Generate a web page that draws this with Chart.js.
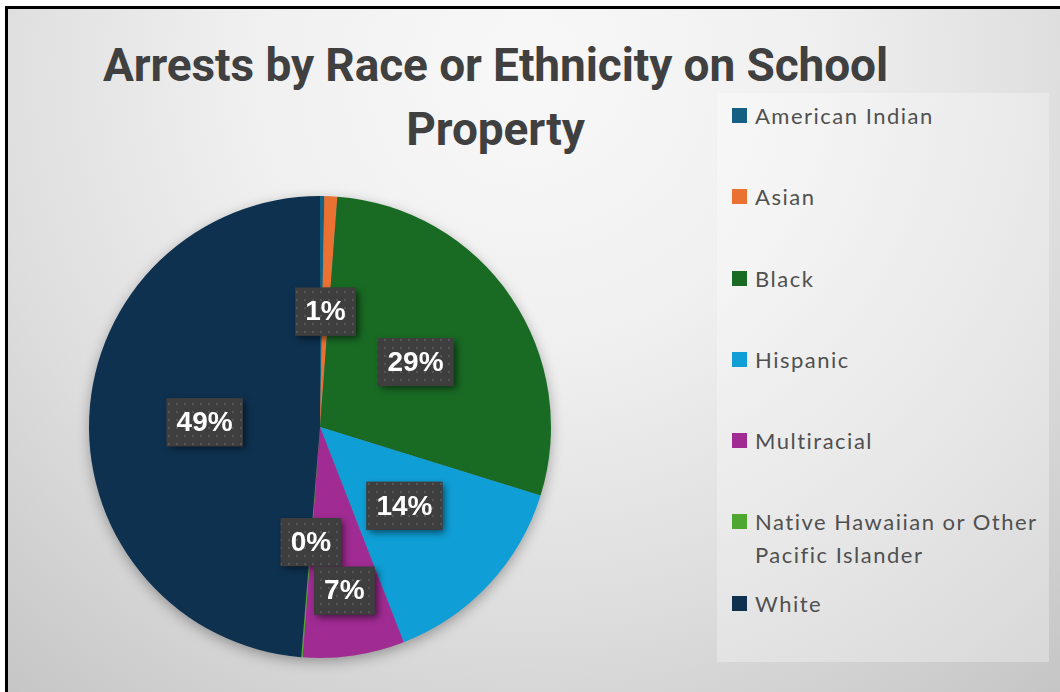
<!DOCTYPE html>
<html>
<head>
<meta charset="utf-8">
<script src="https://cdn.jsdelivr.net/npm/chart.js@4"></script>
<style>
    html, body { margin: 0; padding: 0; background: #fff; }
    body { width: 1060px; height: 692px; position: relative; overflow: hidden; }
    #frame {
        position: absolute; left: 5px; top: 6px; width: 1060px; height: 690px;
        border-left: 3px solid #000; border-top: 3px solid #000;
        background: radial-gradient(circle at 520px 60px, #f8f8f8 0px, #f0f0f0 280px, #dedede 540px, #c5c5c5 820px);
    }
    #title {
        position: absolute; left: 0; top: 33px; width: 991px; text-align: center;
        font-family: Roboto, sans-serif; font-weight: 700; font-size: 46px; line-height: 64px;
        color: #404040; letter-spacing: -0.1px;
    }
    #chartBox { position: absolute; left: 69px; top: 176px; width: 502px; height: 502px; }
    #legend {
        position: absolute; left: 717px; top: 93px; width: 332px; height: 569px;
        background: rgba(255, 255, 255, 0.3);
        font-family: Lato, sans-serif; font-size: 22px; line-height: 33px; color: #505050;
        letter-spacing: 1.5px;
    }
    .item { display: flex; align-items: flex-start; height: calc(569px / 7); box-sizing: border-box; padding: 6px 0 0 15px; }
    .swatch { width: 15px; height: 15px; margin: 9px 8px 0 0; flex: none; }
    .text { max-width: 300px; }
</style>
</head>
<body>
<div id="frame"></div>
<div id="title">Arrests by Race or Ethnicity on School<br>Property</div>
<div id="chartBox"><canvas id="pieChart"></canvas></div>
<div id="legend"></div>

<script>
// data (share of arrests, %)
const categories = ['American Indian', 'Asian', 'Black', 'Hispanic', 'Multiracial',
    'Native Hawaiian or Other Pacific Islander', 'White'];
const sharePercent = [0.3, 0.9, 28.6, 14.3, 7.1, 0.1, 48.7];
const sliceColors = ['#156082', '#E97132', '#196B24', '#0F9ED5', '#A02B93', '#4EA72E', '#0E3150'];
// Excel leaves this one unlabelled (it sits under the Asian label)
const hiddenLabels = ['American Indian'];

// soft shadow under the whole pie
const pieShadow = {
    id: 'pieShadow',
    beforeDatasetsDraw(chart) {
        const arc = chart.getDatasetMeta(0).data[0];
        if (!arc) return;
        const ctx = chart.ctx;
        ctx.save();
        ctx.shadowColor = 'rgba(0,0,0,0.35)';
        ctx.shadowBlur = 14;
        ctx.shadowOffsetY = 4;
        ctx.fillStyle = '#777';
        ctx.beginPath();
        ctx.arc(arc.x, arc.y, arc.outerRadius - 1, 0, Math.PI * 2);
        ctx.fill();
        ctx.restore();
    }
};

function dotPattern(ctx) {
    const c = document.createElement('canvas');
    c.width = 8; c.height = 8;
    const p = c.getContext('2d');
    p.fillStyle = '#3e3e3e';
    p.fillRect(0, 0, 8, 8);
    p.fillStyle = '#565656';
    p.fillRect(3, 3, 2, 2);
    return ctx.createPattern(c, 'repeat');
}

// dark percentage boxes, pushed outwards when they collide
const percentLabels = {
    id: 'percentLabels',
    afterDatasetsDraw(chart) {
        const ctx = chart.ctx;
        const meta = chart.getDatasetMeta(0);
        const values = chart.data.datasets[0].data;
        const total = values.reduce((a, b) => a + b, 0);
        const placed = [];
        const boxH = 48, pad = 10;
        ctx.save();
        ctx.font = 'bold 28px "Liberation Sans", Arial, sans-serif';
        const fill = dotPattern(ctx);

        for (let i = values.length - 1; i >= 0; i--) {
            if (hiddenLabels.includes(chart.data.labels[i])) continue;
            const arc = meta.data[i];
            const text = Math.round(values[i] / total * 100) + '%';
            const w = ctx.measureText(text).width + pad * 2;
            const mid = (arc.startAngle + arc.endAngle) / 2;
            let r = arc.outerRadius * 0.5;
            let box;
            for (let step = 0; step < 300; step++) {
                const cx = arc.x + Math.cos(mid) * r;
                const cy = arc.y + Math.sin(mid) * r;
                box = { x: cx - w / 2, y: cy - boxH / 2, w: w, h: boxH, cx: cx, cy: cy };
                const hit = placed.some(b => box.x < b.x + b.w && box.x + box.w > b.x &&
                    box.y < b.y + b.h && box.y + box.h > b.y);
                if (!hit) break;
                r += 1;
            }
            placed.push(box);
            box.text = text;
        }

        placed.forEach(b => {
            ctx.save();
            ctx.shadowColor = 'rgba(0,0,0,0.55)';
            ctx.shadowBlur = 7;
            ctx.shadowOffsetX = 3;
            ctx.shadowOffsetY = 3;
            ctx.fillStyle = '#3e3e3e';
            ctx.fillRect(b.x, b.y, b.w, b.h);
            ctx.restore();
            ctx.fillStyle = fill;
            ctx.fillRect(b.x, b.y, b.w, b.h);
            ctx.fillStyle = '#ffffff';
            ctx.textAlign = 'center';
            ctx.textBaseline = 'middle';
            ctx.fillText(b.text, b.cx, b.cy + 1);
        });
        ctx.restore();
    }
};

const chart = new Chart(document.getElementById('pieChart'), {
    type: 'pie',
    data: {
        labels: categories,
        datasets: [{
            data: sharePercent,
            backgroundColor: sliceColors,
            borderWidth: 0,
            hoverOffset: 0,
            offset: 0
        }]
    },
    options: {
        responsive: true,
        maintainAspectRatio: false,
        animation: false,
        layout: { padding: 20 },
        plugins: {
            legend: { display: false },
            tooltip: { enabled: false }
        }
    },
    plugins: [pieShadow, percentLabels]
});

// legend built from the chart's own labels and colours
const legendEl = document.getElementById('legend');
chart.data.labels.forEach((label, i) => {
    const item = document.createElement('div');
    item.className = 'item';
    const sw = document.createElement('span');
    sw.className = 'swatch';
    sw.style.background = chart.data.datasets[0].backgroundColor[i];
    const tx = document.createElement('span');
    tx.className = 'text';
    tx.textContent = label;
    item.appendChild(sw);
    item.appendChild(tx);
    legendEl.appendChild(item);
});
</script>
</body>
</html>
